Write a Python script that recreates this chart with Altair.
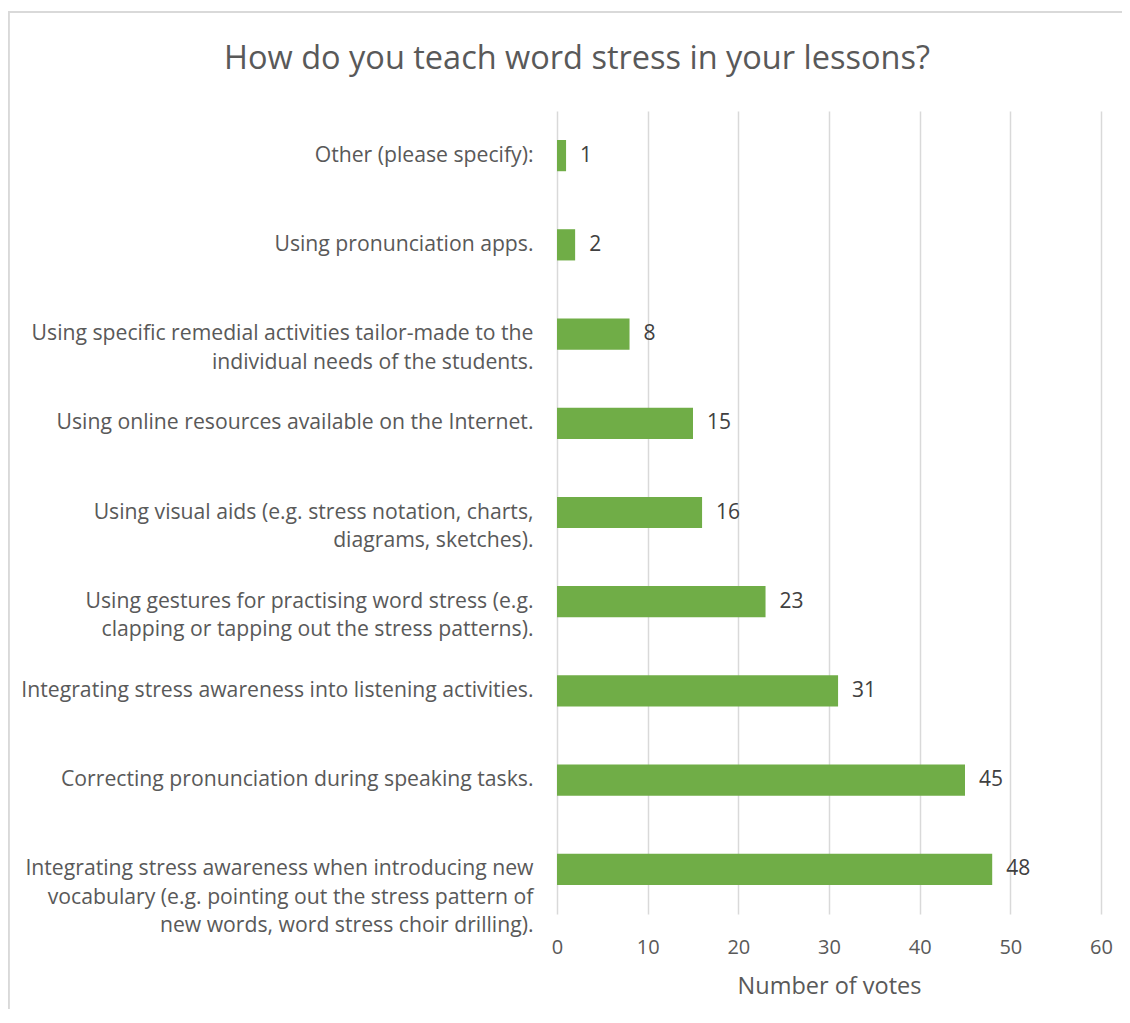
import altair as alt
import pandas as pd

categories = [
    "Other (please specify):",
    "Using pronunciation apps.",
    "Using specific remedial activities tailor-made to the|individual needs of the students.",
    "Using online resources available on the Internet.",
    "Using visual aids (e.g. stress notation, charts,|diagrams, sketches).",
    "Using gestures for practising word stress (e.g.|clapping or tapping out the stress patterns).",
    "Integrating stress awareness into listening activities.",
    "Correcting pronunciation during speaking tasks.",
    "Integrating stress awareness when introducing new|vocabulary (e.g. pointing out the stress pattern of|new words, word stress choir drilling).",
]
votes = [1, 2, 8, 15, 16, 23, 31, 45, 48]
x_ticks = [0, 10, 20, 30, 40, 50, 60]

title_text = "How do you teach word stress in your lessons?"
x_title = "Number of votes"

FONT = "Open Sans"
TXT = "#595959"

df = pd.DataFrame({"cat": categories, "votes": votes})

y_enc = alt.Y(
    "cat:N",
    sort=categories,
    scale=alt.Scale(paddingInner=0.65, paddingOuter=0.325),
    axis=alt.Axis(
        title=None,
        labelExpr="split(datum.label, '|')",
        labelFont=FONT,
        labelFontSize=21.2,
        labelColor=TXT,
        labelLimit=700,
        labelPadding=24,
        labelLineHeight=28.5,
        ticks=False,
        domain=False,
        grid=False,
    ),
)

x_enc = alt.X(
    "votes:Q",
    scale=alt.Scale(domain=[0, 60], nice=False),
    axis=alt.Axis(
        values=x_ticks,
        title=x_title,
        titleFont=FONT,
        titleFontSize=23.5,
        titleFontWeight="normal",
        titleColor=TXT,
        titlePadding=17,
        labelFont=FONT,
        labelFontSize=20,
        labelColor=TXT,
        labelPadding=23,
        labelFlush=False,
        labelOverlap=False,
        ticks=False,
        domain=False,
        grid=True,
        gridColor="#d9d9d9",
        gridWidth=1.5,
    ),
)

bars = alt.Chart(df).mark_bar(color="#70AD47").encode(x=x_enc, y=y_enc)

labels = alt.Chart(df).mark_text(
    align="left", baseline="middle", dx=14, font=FONT, fontSize=21, color="#404040"
).encode(x="votes:Q", y=alt.Y("cat:N", sort=categories), text="votes:Q")

frame = alt.Chart(df).mark_rect(
    fill="transparent", stroke="#d9d9d9", strokeWidth=1.5
).encode(
    x=alt.value(-548.5), x2=alt.value(700), y=alt.value(-99), y2=alt.value(1000)
)

chart = (
    alt.layer(frame, bars, labels)
    .properties(
        width=544,
        height=803,
        padding={"left": 549, "top": 103, "right": 21, "bottom": 95},
        autosize=alt.AutoSizeParams(type="none"),
        title=alt.TitleParams(
            title_text,
            font=FONT,
            fontSize=32.5,
            fontWeight="normal",
            color=TXT,
            anchor="middle",
            baseline="alphabetic",
            dx=-252,
            offset=-90,
        ),
    )
    .configure_view(stroke=None)
)

chart.save("out.html", embed_options={"renderer": "svg", "actions": False})
